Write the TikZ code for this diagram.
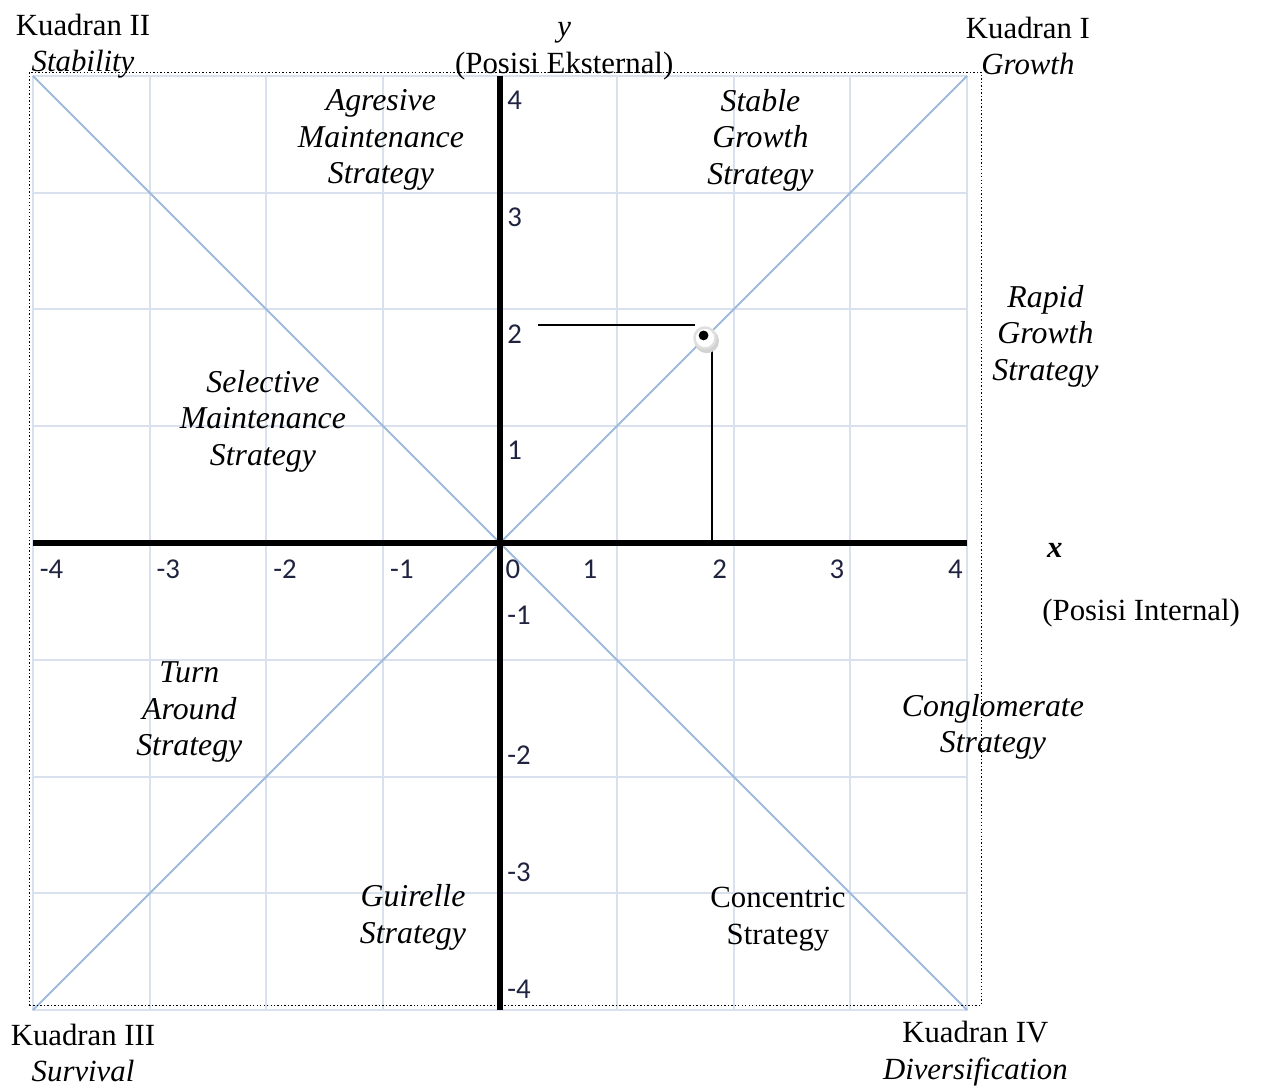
\documentclass[tikz,border=0pt]{standalone}
\usepackage{fontspec}
\setmainfont{Liberation Serif}
\newfontfamily\tickfont{Carlito}
\usetikzlibrary{positioning}
\definecolor{gridblue}{HTML}{D9E1EE}
\definecolor{diagblue}{HTML}{9FBBDD}
\definecolor{ticknavy}{HTML}{1F2340}
\tikzset{
  every picture/.style={line join=round},
  gridline/.style={gridblue, line width=1pt},
  diagline/.style={diagblue, line width=1pt},
  axisline/.style={black, line width=2.5pt},
  frame/.style={densely dotted, line width=0.7pt},
  guide/.style={black, line width=0.8pt},
  ticklab/.style={font=\tickfont\fontsize{14}{16}\selectfont, text=ticknavy, inner sep=0pt},
  quadlab/.style={align=center, font=\fontsize{15}{17.8}\selectfont, inner sep=0pt},
  stratlab/.style={align=center, font=\fontsize{15.5}{17.8}\selectfont\itshape, inner sep=0pt},
  % position marker with a soft shadow
  marker/.pic={
    \fill[gray!35] (0.015,-0.025) circle (0.105);
    \filldraw[fill=white, draw=gray!25, line width=1.2pt] (0,0) circle (0.09);
    \fill[black] (-0.012,0.022) circle (0.042);
  },
}

\begin{document}
\begin{tikzpicture}[x=2cm, y=2cm]
  \fill[white] (-4.281,-4.649) rectangle (6.524,4.649);
  \useasboundingbox (-4.281,-4.649) rectangle (6.524,4.649);
  % ---- grid, diagonals, frame
  \foreach \k in {-4,...,4} {
    \draw[gridline] (\k,-4) -- (\k,4);
    \draw[gridline] (-4,\k) -- (4,\k);
  }
  \draw[diagline] (-4,-4) -- (4,4);
  \draw[diagline] (-4,4) -- (4,-4);
  \draw[frame] (-4.03,-3.96) rectangle (4.12,4.03);
  % ---- axes and tick labels
  \draw[axisline] (-4,0) -- (4,0);
  \draw[axisline] (0,-4) -- (0,4);
  \foreach \lab/\px in {-4/-3.84, -3/-2.84, -2/-1.84, -1/-0.84, 0/0.11, 1/0.77, 2/1.88, 3/2.885, 4/3.9}
    \node[ticklab] (xtick\lab) at (\px,-0.223) {\lab};
  \foreach \lab/\py in {4/3.79, 3/2.79, 2/1.79, 1/0.79, -1/-0.62, -2/-1.815, -3/-2.82, -4/-3.82}
    \node[ticklab, anchor=west] (ytick\lab) at (0.06,\py) {\lab};
  % ---- position of the firm
  \coordinate (hleft) at (0.325,1.866);
  \coordinate (hright) at (1.673,1.866);
  \coordinate (vtop) at (1.815,1.695);
  \coordinate (vfoot) at (1.815,0);
  \draw[guide] (hleft) -- (hright);
  \draw[guide] (vtop) -- (vfoot);
  \pic at (1.755,1.755) {marker};
  % ---- quadrant and axis labels
  \node[quadlab] (kuadII) at (-3.57,4.255) {Kuadran II\\\textit{Stability}};
  \node[quadlab] (kuadI) at (4.52,4.255) {Kuadran I\\\textit{Growth}};
  \node[quadlab] (kuadIII) at (-3.57,-4.365) {Kuadran III\\\textit{Survival}};
  \node[quadlab] (kuadIV) at (4.07,-4.37) {Kuadran IV\\\textit{Diversification}};
  \node[quadlab] (ylab) at (0.55,4.21) {\textit{y}\\(Posisi Eksternal)};
  \node[quadlab] (xlab) at (4.75,-0.065) {\textbf{\textit{x}}};
  \node[quadlab] (xdesc) at (5.49,-0.60) {(Posisi Internal)};
  % ---- strategies
  \node[stratlab] (agresive) at (-1.02,3.45) {Agresive\\Maintenance\\Strategy};
  \node[stratlab] (stable) at (2.23,3.45) {Stable\\Growth\\Strategy};
  \node[stratlab] (rapid) at (4.67,1.77) {Rapid\\Growth\\Strategy};
  \node[stratlab] (selective) at (-2.03,1.045) {Selective\\Maintenance\\Strategy};
  \node[stratlab] (turnaround) at (-2.66,-1.45) {Turn\\Around\\Strategy};
  \node[stratlab] (conglo) at (4.22,-1.575) {Conglomerate\\Strategy};
  \node[stratlab] (guirelle) at (-0.745,-3.205) {Guirelle\\Strategy};
  \node[quadlab] (concentric) at (2.38,-3.22) {Concentric\\Strategy};
\end{tikzpicture}
\end{document}
